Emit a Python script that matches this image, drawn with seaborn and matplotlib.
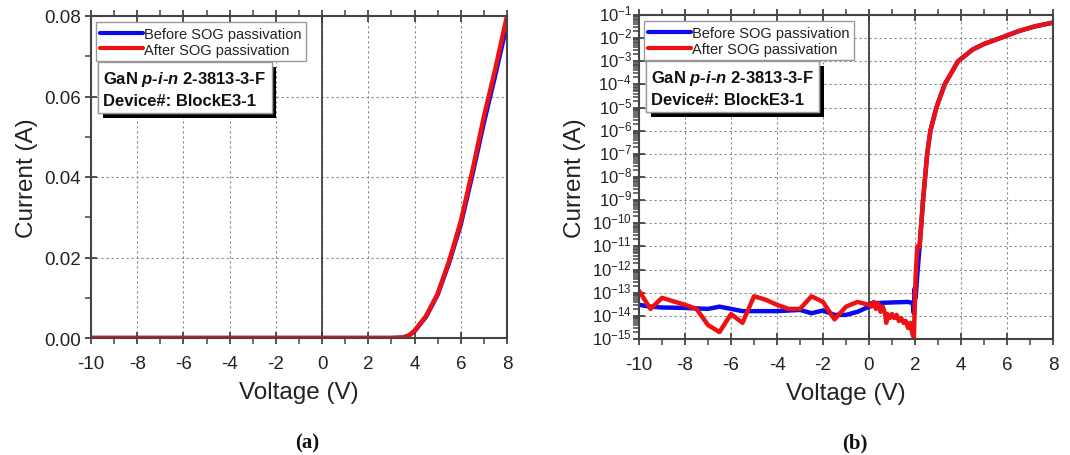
import numpy as np
import pandas as pd
import matplotlib
matplotlib.use("Agg")
import matplotlib.pyplot as plt
import matplotlib.patheffects as pe
import matplotlib.transforms as mtransforms
from matplotlib.ticker import MultipleLocator, LogLocator, NullFormatter
import seaborn as sns

# ---------------- data ----------------
# (a) linear scale
v_lin = [-10, -8, -6, -4, -2, 0, 2, 3, 3.5, 3.75, 4, 4.5, 5, 5.5, 6, 6.5, 7, 7.5, 8]
i_lin_before = [0, 0, 0, 0, 0, 0, 0, 0, 0.0001, 0.0006, 0.0017, 0.0053, 0.0108, 0.0188, 0.0282, 0.0405, 0.0535, 0.0655, 0.0780]
i_lin_after = [0, 0, 0, 0, 0, 0, 0, 0, 0.0001, 0.0006, 0.0018, 0.0055, 0.0110, 0.0192, 0.0290, 0.0415, 0.0550, 0.0670, 0.0800]

# (b) log scale
v_log_before = [-10, -9.5, -9, -8, -7, -6.5, -6, -5.5, -5, -4, -3, -2.5, -2, -1.5, -1, -0.5, 0, 0.1,
                1.0, 1.7, 1.9, 1.95, 1.98, 2.03, 2.1, 2.2, 2.35, 2.53, 2.67, 2.93, 3.29, 3.87,
                4.5, 5.0, 5.7, 6.5, 7.2, 8.0]
i_log_before = [3e-14, 2.5e-14, 2.3e-14, 2.2e-14, 2.0e-14, 2.5e-14, 2.0e-14, 1.6e-14, 1.6e-14, 1.6e-14,
                1.8e-14, 1.3e-14, 1.7e-14, 1.1e-14, 1.1e-14, 1.5e-14, 2.5e-14, 3.5e-14,
                3.8e-14, 4.0e-14, 3.6e-14, 1.3e-14, 1.5e-13, 6e-14, 6e-13, 1e-11, 1e-9, 1e-7, 1e-6, 1e-5, 1e-4, 1e-3,
                3.2e-3, 5.6e-3, 1e-2, 2e-2, 3.2e-2, 4.7e-2]
v_log_after = [-10, -9.5, -9, -8, -7.5, -7, -6.5, -6, -5.5, -5, -4.5, -4, -3.5, -3, -2.5, -2, -1.5, -1, -0.5, 0,
               0.1, 0.2, 0.3, 0.4, 0.5, 0.6, 0.7, 0.75, 0.8, 0.9, 1.0, 1.1, 1.2, 1.3, 1.4, 1.5, 1.6, 1.7, 1.8,
               1.85, 1.9, 1.95, 2.0, 2.03, 2.1, 2.2, 2.35, 2.53, 2.67, 2.93, 3.29, 3.87,
               4.5, 5.0, 5.7, 6.5, 7.2, 8.0]
i_log_after = [1.2e-13, 2e-14, 6e-14, 3e-14, 2e-14, 4e-15, 2e-15, 1.2e-14, 5e-15, 7e-14, 5e-14, 3e-14, 2e-14,
               2e-14, 7e-14, 4e-14, 7e-15, 2.5e-14, 4e-14, 3e-14,
               2.5e-14, 4e-14, 2e-14, 3.5e-14, 1.5e-14, 2.5e-14, 1.2e-14, 5e-15, 1.2e-14, 8e-15, 1.2e-14, 8e-15,
               1.1e-14, 6e-15, 8e-15, 5e-15, 6e-15, 3e-15, 5e-15,
               2.5e-15, 1.5e-15, 1.2e-15, 6e-14, 6e-13, 1e-11, 1e-11, 1e-9, 1e-7, 1e-6, 1e-5, 1e-4, 1e-3,
               3.2e-3, 5.6e-3, 1e-2, 2e-2, 3.2e-2, 4.7e-2]

labels = ["Before SOG passivation", "After SOG passivation"]
colors = ["#0a0aee", "#ee1111"]

x_ticks = [-10, -8, -6, -4, -2, 0, 2, 4, 6, 8]
y_lin_ticks = [0.00, 0.02, 0.04, 0.06, 0.08]

# ---------------- style ----------------
sns.set_theme(style="white")
plt.rcParams["font.family"] = ["Liberation Sans", "DejaVu Sans"]
plt.rcParams["axes.unicode_minus"] = False
plt.rcParams["mathtext.fontset"] = "custom"
plt.rcParams["mathtext.rm"] = "Liberation Sans"
plt.rcParams["mathtext.it"] = "Liberation Sans:italic"
plt.rcParams["mathtext.bf"] = "Liberation Sans:bold"
plt.rcParams["mathtext.bfit"] = "Liberation Sans:bold:italic"

spine_col = "#444444"
text_col = "#222222"

df_lin = pd.concat([
    pd.DataFrame({"V": v_lin, "I": i_lin_before, "s": labels[0]}),
    pd.DataFrame({"V": v_lin, "I": i_lin_after, "s": labels[1]}),
])
df_log = pd.concat([
    pd.DataFrame({"V": v_log_before, "I": i_log_before, "s": labels[0]}),
    pd.DataFrame({"V": v_log_after, "I": i_log_after, "s": labels[1]}),
])

fig = plt.figure(figsize=(10.7, 4.56), dpi=100)
W, H = 1070, 456
def axrect(l, t, r, b):
    return [l / W, 1 - b / H, (r - l) / W, (b - t) / H]

ax1 = fig.add_axes(axrect(91, 17, 507, 339))
ax2 = fig.add_axes(axrect(639, 16, 1053, 340))

for ax, df in ((ax1, df_lin), (ax2, df_log)):
    sns.lineplot(data=df, x="V", y="I", hue="s", palette=colors, hue_order=labels,
                 linewidth=3.2, sort=False, estimator=None, ax=ax)

ax2.set_yscale("log")

def style(ax):
    ax.set_xlim(-10, 8)
    ax.set_xticks(x_ticks)
    ax.xaxis.set_minor_locator(MultipleLocator(1))
    ax.axvline(0, color="#333333", lw=1.2, zorder=1)
    ax.grid(True, which="major", color="#888888", ls=(0, (2, 2.5)), lw=0.8)
    ax.set_axisbelow(True)
    for sp in ax.spines.values():
        sp.set_visible(True)
        sp.set_color(spine_col)
        sp.set_linewidth(1.5)
    ax.tick_params(axis="both", which="major", direction="inout", length=8, width=1.3,
                   color=spine_col, labelsize=13.5, labelcolor=text_col, top=True, right=False,
                   bottom=True, left=True)
    ax.tick_params(axis="both", which="minor", direction="out", length=4, width=1.1,
                   color=spine_col, top=True, right=False, bottom=True, left=True)
    ax.tick_params(axis="x", which="major", pad=8)
    ax.set_xlabel("Voltage (V)", fontsize=17.5, color=text_col, labelpad=7)
    ax.set_ylabel("Current (A)", fontsize=17.5, color=text_col, labelpad=4)
    leg = ax.legend(loc="upper left", bbox_to_anchor=(0.012, 0.98), fontsize=10.5,
                    frameon=True, fancybox=False, edgecolor="#999999", framealpha=1,
                    handlelength=2.9, handletextpad=0.1, borderpad=0.3, labelspacing=0.12,
                    borderaxespad=0)
    leg.get_frame().set_linewidth(1.0)
    for t in leg.get_texts():
        t.set_color(text_col)
    for ln in leg.get_lines():
        ln.set_linewidth(3)

style(ax1)
style(ax2)

ax1.set_ylim(0, 0.08)
ax1.set_yticks(y_lin_ticks)
ax1.set_yticklabels([f"{v:.2f}" for v in y_lin_ticks])
ax1.yaxis.set_minor_locator(MultipleLocator(0.01))

ax2.set_ylim(1e-15, 1e-1)
ax2.yaxis.set_major_locator(LogLocator(base=10, numticks=30))
ax2.yaxis.set_minor_locator(LogLocator(base=10, subs=np.arange(2, 10), numticks=30))
ax2.yaxis.set_minor_formatter(NullFormatter())
ax2.tick_params(axis="y", which="major", labelsize=12, pad=1)
shift_up = mtransforms.ScaledTranslation(0, 0.03, fig.dpi_scale_trans)
for lab in ax2.get_yticklabels():
    lab.set_transform(lab.get_transform() + shift_up)

box_text = "GaN $\\mathbfit{p}$-$\\mathbfit{i}$-$\\mathbfit{n}$ 2-3813-3-F\nDevice#: BlockE3-1"
for ax in (ax1, ax2):
    t = ax.text(0.03, 0.835, box_text, transform=ax.transAxes, fontsize=12, fontweight="bold",
                color="#111111", va="top", ha="left", linespacing=1.4,
                bbox=dict(boxstyle="square,pad=0.3", fc="white", ec="#999999", lw=1.0))
    t.get_bbox_patch().set_path_effects([
        pe.withSimplePatchShadow(offset=(3.5, -3.5), shadow_rgbFace="black", alpha=1.0),
        pe.Normal()])

fig.text(307 / W, 1 - 443 / H, "(a)", fontsize=15, fontweight="bold",
         family="Liberation Serif", ha="center", va="center", color="#111111")
fig.text(855 / W, 1 - 443 / H, "(b)", fontsize=15, fontweight="bold",
         family="Liberation Serif", ha="center", va="center", color="#111111")

fig.savefig("out.png", dpi=100, facecolor="white")
